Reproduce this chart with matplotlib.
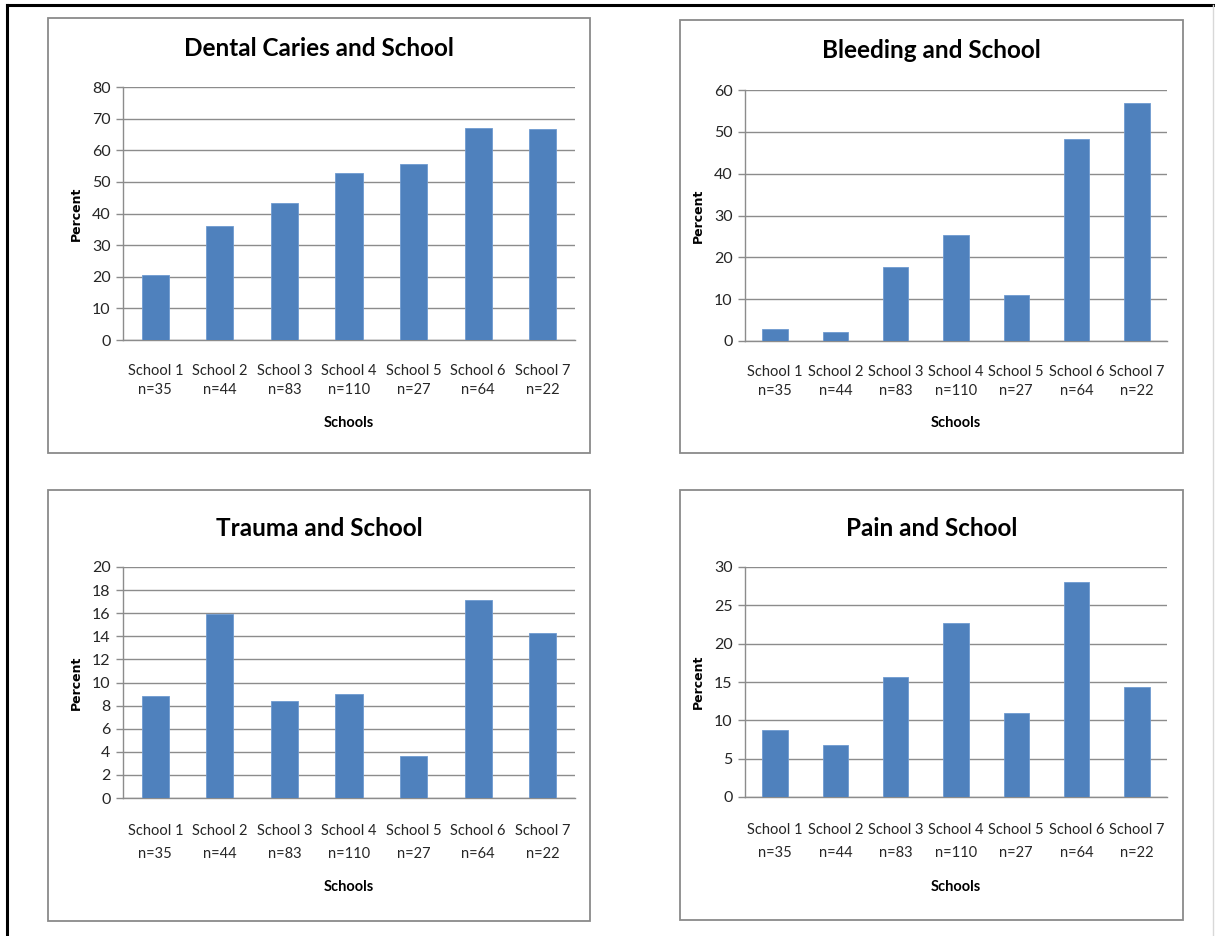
import matplotlib
matplotlib.use("Agg")
import matplotlib.pyplot as plt
from matplotlib.patches import Rectangle
from matplotlib.lines import Line2D

schools = ["School 1", "School 2", "School 3", "School 4", "School 5", "School 6", "School 7"]
sizes = ["n=35", "n=44", "n=83", "n=110", "n=27", "n=64", "n=22"]

dental_caries = [20.4, 36.2, 43.4, 52.7, 55.6, 67.1, 66.6]
bleeding = [2.8, 2.2, 17.8, 25.3, 11.0, 48.3, 56.8]
trauma = [8.8, 15.9, 8.4, 9.0, 3.6, 17.1, 14.3]
pain = [8.7, 6.8, 15.6, 22.7, 11.0, 28.0, 14.3]

titles = ["Dental Caries and School", "Bleeding and School", "Trauma and School", "Pain and School"]
ymaxes = [80, 60, 20, 30]
ysteps = [10, 10, 2, 5]

W, H = 1215, 936
NARROW = ["Lato", "DejaVu Sans"]
BAR = "#4F81BD"
GRID = "#8C8C8C"

fig = plt.figure(figsize=(W / 100, H / 100), dpi=100)
fig.patch.set_facecolor("white")

def fx(x):
    return x / W

def fy(y):
    return 1 - y / H

# outer frame
fig.add_artist(Line2D([fx(7), fx(1215)], [fy(5), fy(5)], color="black", lw=2.2))
fig.add_artist(Line2D([fx(7), fx(7)], [fy(5), fy(936)], color="black", lw=2.2))
fig.add_artist(Line2D([fx(1213), fx(1213)], [fy(5), fy(936)], color="#d8d8d8", lw=1))

# panel layout: (box l, t, r, b), (axes l, t, r, b), tick pad, line spacing, xlabel offset
panels = [
    ((48, 18, 590, 453), (123, 87, 575, 340), 17, 1.45, 83),
    ((680, 20, 1183, 453), (745, 90, 1167, 341), 17, 1.45, 82),
    ((48, 490, 590, 921), (123, 567, 575, 798), 19, 1.75, 89),
    ((680, 490, 1183, 920), (745, 567, 1167, 797), 19, 1.75, 90),
]
datasets = [dental_caries, bleeding, trauma, pain]

for (box, axr, pad, lsp, xoff), data, title, ymax, step in zip(panels, datasets, titles, ymaxes, ysteps):
    bl, bt, br, bb = box
    fig.add_artist(Rectangle((fx(bl), fy(bb)), fx(br - bl), (bb - bt) / H,
                             transform=fig.transFigure, fill=False,
                             edgecolor="#8a8a8a", lw=1.3))
    al, at, ar, ab = axr
    ax = fig.add_axes([fx(al), fy(ab), fx(ar - al), (ab - at) / H])
    x = list(range(len(data)))
    ax.bar(x, data, width=0.42, color=BAR, edgecolor="#6f9ad0", linewidth=0.6, zorder=3)
    ax.set_xlim(-0.5, len(data) - 0.5)
    ax.set_ylim(0, ymax)
    ax.set_yticks(list(range(0, ymax + 1, step)))
    ax.yaxis.grid(True, color=GRID, lw=1, zorder=0)
    ax.set_axisbelow(True)
    for s in ["top", "right"]:
        ax.spines[s].set_visible(False)
    ax.spines["left"].set_color(GRID)
    ax.spines["bottom"].set_color(GRID)
    ax.spines["left"].set_linewidth(1)
    ax.spines["bottom"].set_linewidth(1)
    ax.tick_params(axis="y", length=5, color=GRID, width=1, pad=4, labelsize=11.5)
    ax.tick_params(axis="x", length=0, pad=pad, labelsize=10.5)
    ax.set_xticks(x)
    ax.set_xticklabels([f"{s}\n{n}" for s, n in zip(schools, sizes)],
                       family=NARROW, color="#262626", linespacing=lsp)
    for lab in ax.get_yticklabels():
        lab.set_family(NARROW)
        lab.set_color("#262626")
    cx = (al + ar) / 2
    fig.text(fx((bl + br) / 2 + 0), fy(at - 39), title, ha="center", va="center",
             family=NARROW, fontweight="bold", fontsize=17.5, color="black")
    fig.text(fx(cx), fy(ab + xoff), "Schools", ha="center", va="center",
             family=NARROW, fontweight="bold", fontsize=10.5, color="black")
    fig.text(fx(al - 47), fy((at + ab) / 2), "Percent", ha="center", va="center",
             rotation=90, family="DejaVu Sans", fontweight="bold", fontsize=9,
             color="black")

fig.savefig("out.png", dpi=100)
